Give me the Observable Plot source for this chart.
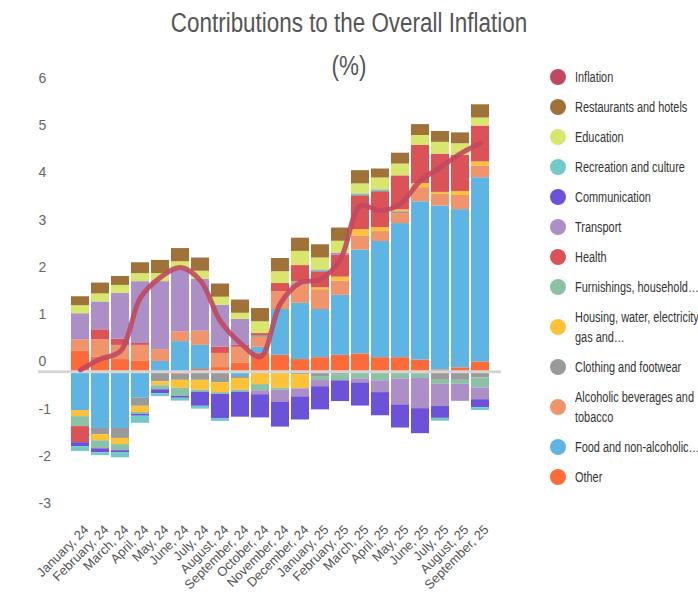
<!DOCTYPE html>
<html>
<head>
<meta charset="utf-8">
<script src="https://cdn.jsdelivr.net/npm/d3@7"></script>
<script src="https://cdn.jsdelivr.net/npm/@observablehq/plot@0.6"></script>
<style>
  body { margin: 0; background: #fff; font-family: "Liberation Sans", Arial, sans-serif; }
  #wrap { position: relative; width: 698px; height: 596px; overflow: hidden; }
  #chart { position: absolute; left: 0; top: 0; }
  .t1, .t2 { position: absolute; left: 0; width: 698px; text-align: center; color: #555; font-size: 27px; line-height: 30px; transform: scaleX(0.83); transform-origin: 349px 50%; }
  .t1 { top: 8px; }
  .t2 { top: 51px; }
  #legend { position: absolute; left: 550px; top: 67px; color: #333; font-size: 14px; }
  .item { display: flex; align-items: center; margin-bottom: 10px; }
  .dot { width: 16px; height: 16px; border-radius: 50%; flex: none; }
  .lab { margin-left: 9px; line-height: 20px; white-space: pre; transform: scaleX(0.78); transform-origin: 0 50%; }
</style>
</head>
<body>
<div id="wrap">
  <div id="chart"></div>
  <div class="t1">Contributions to the Overall Inflation</div>
  <div class="t2">(%)</div>
  <div id="legend"></div>
</div>
<script>
const months = ["January, 24","February, 24","March, 24","April, 24","May, 24","June, 24","July, 24","August, 24","September, 24","October, 24","November, 24","December, 24","January, 25","February, 25","March, 25","April, 25","May, 25","June, 25","July, 25","August, 25","September, 25"];

// stack order (bottom to top)
const categories = ["Other","Food and non-alcoholic…","Alcoholic beverages and tobacco","Clothing and footwear","Housing, water, electricity gas and…","Furnishings, household…","Health","Transport","Communication","Recreation and culture","Education","Restaurants and hotels"];
const categoryColors = ["#FF6B38","#5EB4E2","#F0946C","#9A9A9A","#FEC238","#8CC2A4","#DB5257","#AC8FC7","#6C52D8","#72C9C9","#D8E66E","#A07238"];

const other       = [0.43,0.31,0.26,0.22,-0.03,-0.05,0.05,0.09,0.18,0.39,0.35,0.26,0.30,0.35,0.38,0.30,0.30,0.25,0.04,0.085,0.21];
const food        = [-0.82,-1.2,-1.2,-0.56,0.22,0.64,0.51,0,-0.1,0.13,0.97,1.19,1.02,1.27,2.20,2.46,2.84,3.35,3.47,3.35,3.90];
const alcoholic   = [0.25,0.37,0.30,0.34,0.25,0.21,0.30,0.30,0.34,0.21,0.38,0.42,0.42,0.30,0.30,0.21,0.21,0.30,0.25,0.30,0.25];
const clothing    = [0,-0.13,-0.21,-0.17,-0.18,-0.13,-0.18,-0.23,-0.04,0.04,0,-0.06,-0.1,-0.06,0,0,0.04,-0.05,-0.18,-0.18,-0.13];
const housing     = [-0.13,-0.13,-0.13,-0.13,-0.085,-0.17,-0.21,-0.21,-0.25,-0.27,-0.35,-0.30,0.04,0.085,0.13,0.085,0.04,0.085,0.04,0.085,0.085];
const furnishings = [-0.21,-0.17,-0.13,-0.04,-0.085,-0.17,-0.04,-0.04,-0.04,-0.13,-0.04,0.04,-0.085,-0.13,-0.15,-0.19,-0.15,-0.09,-0.085,-0.085,-0.21];
const health      = [-0.34,0.21,0.13,0.04,0,0,0,0.13,0.04,0.04,0.17,0.34,0.34,0.47,0.72,0.76,0.72,0.81,0.81,0.76,0.76];
const transport   = [0.55,0.59,0.97,1.31,1.44,1.31,1.10,0.89,0.55,-0.085,-0.25,-0.17,-0.13,0.04,-0.085,-0.25,-0.55,-0.64,-0.47,-0.36,-0.25];
const communication = [-0.085,-0.085,-0.04,-0.04,-0.085,-0.04,-0.30,-0.51,-0.53,-0.49,-0.53,-0.49,-0.49,-0.44,-0.49,-0.49,-0.49,-0.53,-0.25,0,-0.17];
const recreation  = [-0.1,-0.06,-0.11,-0.15,-0.06,-0.06,-0.06,-0.06,0,0,0,0,0.04,0,0.04,0.04,0,0,-0.06,0,-0.06];
const education   = [0.17,0.17,0.17,0.17,0.17,0.17,0.17,0.17,0.13,0.25,0.25,0.30,0.25,0.25,0.21,0.25,0.25,0.21,0.25,0.25,0.17];
const restaurants = [0.19,0.23,0.19,0.23,0.28,0.28,0.28,0.28,0.28,0.28,0.28,0.28,0.28,0.28,0.28,0.19,0.23,0.23,0.23,0.23,0.28];

const inflation = [0.04,0.27,0.44,1.57,2.0,2.21,1.93,1.07,0.61,0.32,1.45,1.89,1.96,2.39,3.52,3.41,3.56,4.05,4.33,4.62,4.84];
const inflationColor = "#C04860";

const yTicks = [-3,-2,-1,0,1,2,3,4,5,6];

// legend order (top to bottom)
const legendLabels = ["Inflation","Restaurants and hotels","Education","Recreation and culture","Communication","Transport","Health","Furnishings, household…","Housing, water, electricity\ngas and…","Clothing and footwear","Alcoholic beverages and\ntobacco","Food and non-alcoholic…","Other"];
const legendColors = [inflationColor,"#A07238","#D8E66E","#72C9C9","#6C52D8","#AC8FC7","#DB5257","#8CC2A4","#FEC238","#9A9A9A","#F0946C","#5EB4E2","#FF6B38"];

const series = [other, food, alcoholic, clothing, housing, furnishings, health, transport, communication, recreation, education, restaurants];
const rows = [];
categories.forEach((c, i) => {
  months.forEach((m, j) => rows.push({month: m, category: c, value: series[i][j]}));
});
const inflRows = months.map((m, j) => ({month: m, value: inflation[j]}));

const font = '"Liberation Sans", Arial, sans-serif';

const chart = Plot.plot({
  width: 698,
  height: 596,
  marginTop: 88,
  marginBottom: 83,
  marginLeft: 60,
  marginRight: 198,
  style: {fontFamily: font, background: "transparent"},
  x: {domain: months, padding: 0.1, label: null},
  y: {domain: [-3, 6], label: null},
  color: {domain: categories, range: categoryColors},
  marks: [
    Plot.axisY({ticks: yTicks, tickFormat: d => String(d), tickSize: 0, tickPadding: 22, textAnchor: "start", dy: -10, fontSize: 14, fill: "#666", label: null}),
    Plot.axisX({tickSize: 0, tickPadding: 14, tickRotate: -45, dx: 6, fontSize: 13, fill: "#555", label: null}),
    Plot.barY(rows, Plot.stackY({x: "month", y: "value", fill: "category", order: null})),
    Plot.ruleY([0], {stroke: "#d6d6d6", strokeWidth: 3, insetLeft: -22, insetRight: -1}),
    Plot.line(inflRows, {x: "month", y: "value", stroke: inflationColor, strokeWidth: 5, strokeOpacity: 0.9, curve: "catmull-rom"})
  ]
});
document.getElementById("chart").appendChild(chart);

const legend = document.getElementById("legend");
legendLabels.forEach((l, i) => {
  const it = document.createElement("div");
  it.className = "item";
  const d = document.createElement("div");
  d.className = "dot";
  d.style.background = legendColors[i];
  const t = document.createElement("div");
  t.className = "lab";
  t.textContent = l;
  it.appendChild(d); it.appendChild(t);
  legend.appendChild(it);
});
</script>
</body>
</html>
